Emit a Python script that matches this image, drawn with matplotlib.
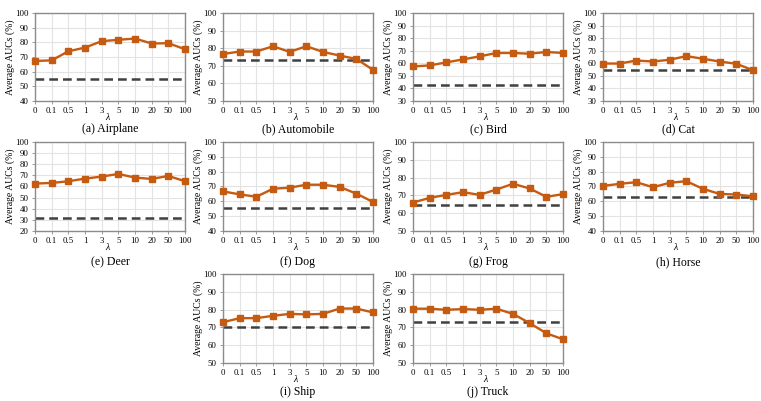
import matplotlib
matplotlib.use("Agg")
import matplotlib.pyplot as plt

plt.rcParams['font.family'] = ['Liberation Serif', 'DejaVu Serif']

lambdas = ['0', '0.1', '0.5', '1', '3', '5', '10', '20', '50', '100']

titles = ['(a) Airplane', '(b) Automobile', '(c) Bird', '(d) Cat', '(e) Deer',
          '(f) Dog', '(g) Frog', '(h) Horse', '(i) Ship', '(j) Truck']

airplane = [67.3, 67.7, 73.9, 76.4, 80.8, 81.7, 82.6, 79.2, 79.4, 75.3]
automobile = [76.7, 78.1, 78.1, 81.1, 77.9, 81.1, 77.9, 75.8, 73.9, 67.7]
bird = [57.5, 58.3, 60.7, 63.1, 65.5, 68.2, 68.2, 67.6, 69.0, 68.2]
cat = [59.8, 59.8, 62.2, 61.4, 62.8, 65.7, 63.6, 61.4, 59.6, 54.5]
deer = [62.6, 63.2, 64.7, 67.1, 68.9, 71.3, 68.0, 66.8, 69.5, 64.7]
dog = [66.7, 64.7, 63.1, 68.5, 69.2, 71.2, 71.2, 69.7, 65.2, 59.6]
frog = [66.0, 68.6, 70.3, 71.8, 70.3, 73.3, 76.5, 73.9, 69.2, 70.7]
horse = [70.4, 71.8, 72.9, 69.5, 72.5, 73.6, 68.4, 65.0, 64.6, 63.4]
ship = [72.9, 75.2, 75.2, 76.5, 77.6, 77.3, 77.6, 80.6, 80.6, 78.4]
truck = [80.5, 80.5, 79.9, 80.3, 79.9, 80.5, 77.6, 72.4, 66.7, 63.3]

baselines = [55.0, 73.3, 43.0, 54.3, 31.4, 55.7, 64.8, 63.0, 70.1, 72.9]
ymins = [40, 50, 30, 30, 20, 40, 50, 40, 50, 50]

series = [airplane, automobile, bird, cat, deer, dog, frog, horse, ship, truck]

W, H = 761, 401
fig = plt.figure(figsize=(W / 100, H / 100), dpi=100)

col_left = [35, 223, 413, 603]
rows = [(13, 101, 129), (142, 231, 262), (274, 363, 392)]
slots = [(0, 0), (0, 1), (0, 2), (0, 3),
         (1, 0), (1, 1), (1, 2), (1, 3),
         (2, 1), (2, 2)]

orange = '#C55A11'
x = list(range(len(lambdas)))

for i, (r, c) in enumerate(slots):
    top, bot, ty = rows[r]
    left = col_left[c]
    h = bot - top
    ax = fig.add_axes([left / W, 1 - bot / H, 150 / W, h / H])
    ax.plot(x, series[i], color=orange, lw=1.7, marker='s', markersize=4.3,
            zorder=3, clip_on=False)
    ax.axhline(baselines[i], color='#404040', lw=1.8, ls=(0, (3.5, 2)), zorder=2)
    ax.set_xlim(0, 9)
    ax.set_ylim(ymins[i], 100)
    ax.set_yticks(range(ymins[i], 101, 10))
    ax.set_xticks(x)
    ax.set_xticklabels(lambdas)
    ax.grid(True, color='#E3E3E3', lw=0.8)
    ax.set_axisbelow(True)
    for s in ax.spines.values():
        s.set_color('#8C8C8C')
        s.set_linewidth(1.0)
    ax.tick_params(labelsize=6.3, length=2, width=0.6, color='#8C8C8C', pad=2.5)
    ax.set_ylabel('Average AUCs (%)', fontsize=7, labelpad=0.5)
    ax.set_xlabel('λ', fontsize=7, style='italic')
    ax.xaxis.set_label_coords(0.485, -12.5 / h)
    fig.text((left + 75) / W, 1 - ty / H, titles[i], fontsize=8.5,
             ha='center', va='center')

fig.savefig('out.png', dpi=100)
